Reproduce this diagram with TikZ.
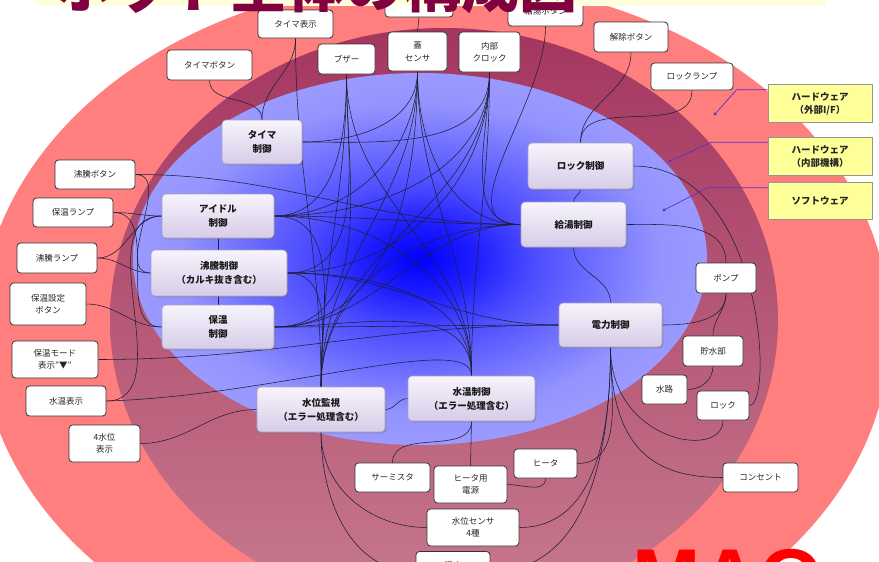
\documentclass[tikz,border=0pt]{standalone}
\usepackage{fontspec}
\setmainfont{Noto Sans CJK JP}
\newfontfamily\latinfont{Liberation Sans}
\usetikzlibrary{shadows}

\definecolor{outerred}{RGB}{255,126,126}
\definecolor{bandtop}{RGB}{164,54,96}
\definecolor{bandbot}{RGB}{200,122,142}
\definecolor{swtop}{RGB}{247,244,252}
\definecolor{swbot}{RGB}{214,204,232}
\definecolor{swedge}{RGB}{170,160,195}
\definecolor{wirecol}{RGB}{30,30,55}
\definecolor{legfill}{RGB}{255,255,153}
\definecolor{legedge}{RGB}{150,150,150}
\definecolor{legline}{RGB}{90,50,200}
\definecolor{titlecol}{RGB}{128,0,64}
\definecolor{titleband}{RGB}{255,255,221}

\pgfdeclareradialshading{blueglow}{\pgfpoint{0bp}{0bp}}{%
  rgb(0bp)=(0,0,1); rgb(5bp)=(0.12,0.12,1); rgb(10bp)=(0.3,0.3,1);
  rgb(21bp)=(0.58,0.58,1); rgb(35bp)=(0.66,0.66,1); rgb(50bp)=(0.68,0.68,1)}

\pgfdeclarelayer{bg}
\pgfdeclarelayer{wires}
\pgfdeclarelayer{top}
\pgfsetlayers{bg,wires,main,top}

\begin{document}
\begin{tikzpicture}[x=1pt,y=-1pt,
  sz/.style 2 args={minimum width=#1,minimum height=#2},
  hw/.style={draw=black!80,line width=0.8pt,fill=white,rounded corners=3.5pt,
    inner sep=0pt,align=center,text=black!85,font=\fontsize{8.5}{12.5}\selectfont},
  sw/.style={draw=swedge,line width=0.6pt,top color=swtop,bottom color=swbot,
    rounded corners=4pt,inner sep=0pt,align=center,text=black!90,
    drop shadow={shadow xshift=1.3pt,shadow yshift=-1.3pt,opacity=0.35,fill=black!60},
    font=\fontsize{9.5}{14}\selectfont\bfseries},
  leg/.style={draw=legedge,line width=0.6pt,fill=legfill,inner sep=0pt,align=center,
    text=black!85,font=\fontsize{9.5}{13}\selectfont\bfseries},
  wire/.style={draw=wirecol,line width=0.55pt},
  leader/.style={draw=legline,line width=0.7pt}]

\useasboundingbox (0,0) rectangle (879,562);

% three nested regions
\begin{pgfonlayer}{bg}
  \fill[outerred] (435,330) ellipse [x radius=455, y radius=350];
  \shade[top color=bandtop,bottom color=bandbot] (444,320) ellipse [x radius=334, y radius=292];
  \shade[shading=blueglow] (420,259) ellipse [x radius=287, y radius=186];
\end{pgfonlayer}

% external hardware
\node[hw,sz={75}{28}] (tdisp)  at (295.5,24)   {タイマ表示};
\node[hw,sz={68}{42}] (hid)    at (419,-4)     {};
\node[hw,sz={75}{30}] (kbtn)   at (545.5,11)   {給湯ボタン};
\node[hw,sz={74}{30}] (rbtn)   at (631,37)     {解除ボタン};
\node[hw,sz={82}{27}] (llamp)  at (692,76.5)   {ロックランプ};
\node[hw,sz={85}{30}] (tbtn)   at (209.5,65)   {タイマボタン};
\node[hw,sz={57}{30}] (buz)    at (346.5,59)   {ブザー};
\node[hw,sz={59}{39}] (lid)    at (417.5,51.5) {蓋\\センサ};
\node[hw,sz={61}{40}] (clk)    at (489.5,52)   {内部\\クロック};
\node[hw,sz={80}{29}] (bbtn)   at (95,174.5)   {沸騰ボタン};
\node[hw,sz={80}{29}] (klamp)  at (73,212.5)   {保温ランプ};
\node[hw,sz={80}{30}] (blamp)  at (57,258)     {沸騰ランプ};
\node[hw,sz={76}{42}] (kset)   at (48,304)     {保温設定\\ボタン};
\node[hw,sz={86}{37}] (kmode)  at (55,359.5)   {保温モード\\表示"▼"};
\node[hw,sz={80}{30}] (wtdisp) at (66,401)     {水温表示};
\node[hw,sz={71}{37}] (wldisp) at (104.5,443.5){4水位\\表示};
\node[hw,sz={60}{30}] (pump)   at (726,278)    {ポンプ};
\node[hw,sz={60}{30}] (tank)   at (713,351)    {貯水部};
\node[hw,sz={45}{29}] (wpath)  at (664.5,389.5){水路};
\node[hw,sz={52}{29}] (lockb)  at (723,405.5)  {ロック};
\node[hw,sz={75}{29}] (outlet) at (760.5,477.5){コンセント};
\node[hw,sz={75}{29}] (therm)  at (392.5,477.5){サーミスタ};
\node[hw,sz={73}{37}] (hpow)   at (470.5,484.5){ヒータ用\\電源};
\node[hw,sz={63}{29}] (heater) at (545.5,463.5){ヒータ};
\node[hw,sz={92}{37}] (wsens)  at (473,527.5)  {水位センサ\\4種};
\node[hw,sz={74}{40}] (full)   at (453,571.5)  {満水\\\phantom{満}};

% software blocks
\node[sw,sz={80}{44}]  (timer)  at (262,142)    {タイマ\\制御};
\node[sw,sz={105}{46}] (lockc)  at (580.5,166)  {ロック制御};
\node[sw,sz={112}{44}] (idle)   at (218,216)    {アイドル\\制御};
\node[sw,sz={105}{45}] (supply) at (573.5,224.5){給湯制御};
\node[sw,sz={136}{46}] (boil)   at (219,273)    {沸騰制御\\（カルキ抜き含む）};
\node[sw,sz={112}{44}] (keep)   at (218,327)    {保温\\制御};
\node[sw,sz={103}{44}] (power)  at (610.5,325)  {電力制御};
\node[sw,sz={128}{45}] (wlev)   at (321,409.5)  {水位監視\\（エラー処理含む）};
\node[sw,sz={127}{45}] (wtmp)   at (471.5,398.5){水温制御\\（エラー処理含む）};

% legend
\node[leg,sz={104}{38}] (lg1) at (820,103.5) {ハードウェア\\（外部I/F）};
\node[leg,sz={104}{38}] (lg2) at (820,156.5) {ハードウェア\\（内部機構）};
\node[leg,sz={104}{37}] (lg3) at (820,201)   {ソフトウェア};
\coordinate (d1) at (715,114);
\coordinate (d2) at (670,161);
\coordinate (d3) at (664,210);
\draw[leader] (lg1.north west) ++(0,5.5) -- ++(-31,0) -- (d1);
\draw[leader] (lg2.north west) ++(0,5) -- ++(-56,0) -- (d2);
\draw[leader] (lg3.north west) ++(0,5.5) -- ++(-60,0) -- (d3);
\fill[legline] (d1) circle (1.6);
\fill[legline] (d2) circle (1.6);
\fill[legline] (d3) circle (1.6);

% connections
\begin{pgfonlayer}{wires}
  % top row
  \draw[wire] (hid.south) -- (lid.north);
  \draw[wire] (tbtn.south) to[out=-90,in=90] (timer.north);
  \draw[wire] (tdisp.south) to[out=-90,in=90] (timer.north);
  \draw[wire] (tdisp.south) to[out=-90,in=90] (wlev.north);
  \foreach \t in {idle.east,boil.east,keep.east}
    \draw[wire] (buz.south) to[out=-90,in=0] (\t);
  \foreach \t in {wlev.north,wtmp.north}
    \draw[wire] (buz.south) to[out=-90,in=90] (\t);
  \foreach \t in {idle.east,keep.east}
    \draw[wire] (lid.south) to[out=-90,in=0] (\t);
  \foreach \t in {wlev.north,wtmp.north}
    \draw[wire] (lid.south) to[out=-90,in=90] (\t);
  \draw[wire] (lid.south) to[out=-90,in=180] (supply.west);
  \foreach \t in {timer.east,idle.east,boil.east}
    \draw[wire] (clk.south) to[out=-90,in=0] (\t);
  \foreach \t in {wlev.north,wtmp.north}
    \draw[wire] (clk.south) to[out=-90,in=90] (\t);
  \draw[wire] (clk.south) to[out=-90,in=180] (supply.west);
  \draw[wire] (timer.east) to[out=0,in=-90] (lid.south);
  \draw[wire] (kbtn.south) to[out=-90,in=180] (supply.west);
  \draw[wire] (rbtn.south) to[out=-90,in=90] (lockc.north);
  \draw[wire] (llamp.south) to[out=-90,in=90] (lockc.north);
  % right side
  \draw[wire] (lockc.south) to[out=-90,in=90] (supply.north);
  \draw[wire] (lockc.east) .. controls +(130,0) and +(25,0) .. (lockb.east);
  \draw[wire] (supply.east) to[out=0,in=90] (pump.north);
  \draw[wire] (supply.south) to[out=-90,in=90] (power.north);
  \draw[wire] (power.east) to[out=0,in=-90] (pump.south);
  \draw[wire] (pump.south) to[out=-90,in=90] (tank.north);
  \draw[wire] (tank.south) to[out=-90,in=0] (wpath.east);
  \draw[wire] (power.south) .. controls +(0,95) and +(0,40) .. (lockb.south);
  \draw[wire] (power.south) .. controls +(0,110) and +(-60,0) .. (outlet.west);
  \draw[wire] (heater.east) to[out=0,in=-90] (power.south);
  \draw[wire] (wsens.east) to[out=0,in=-90] (power.south);
  \draw[wire] (full.east) to[out=0,in=-90] (power.south);
  % bottom
  \draw[wire] (wtmp.south) to[out=-90,in=90] (therm.north);
  \draw[wire] (wtmp.south) -- (hpow.north);
  \draw[wire] (hpow.east) to[out=0,in=-90] (heater.south);
  \draw[wire] (wlev.south) to[out=-90,in=180] (wsens.west);
  \draw[wire] (wlev.south) to[out=-90,in=180] (full.west);
  \draw[wire] (wlev.east) to[out=0,in=180] (wtmp.west);
  % left side
  \draw[wire] (wldisp.east) to[out=0,in=180] (wlev.west);
  \draw[wire] (wtdisp.east) .. controls +(170,-5) and +(0,-45) .. (wtmp.north);
  \draw[wire] (wtdisp.east) to[out=0,in=180] (idle.west);
  \draw[wire] (kmode.east) to[out=0,in=180] (power.west);
  \draw[wire] (kset.east) to[out=0,in=180] (keep.west);
  \draw[wire] (blamp.east) to[out=0,in=180] (idle.west);
  \draw[wire] (blamp.east) to[out=0,in=180] (boil.west);
  \draw[wire] (klamp.east) to[out=0,in=180] (keep.west);
  \draw[wire] (klamp.east) to[out=0,in=180] (idle.west);
  \draw[wire] (bbtn.east) to[out=0,in=180] (boil.west);
  \draw[wire] (bbtn.east) to[out=0,in=180] (supply.west);
  % between control blocks
  \draw[wire] (idle.south) -- (keep.north);
  \draw[wire] (idle.east) to[out=0,in=180] (supply.west);
  \draw[wire] (idle.east) to[out=0,in=90] (wlev.north);
  \draw[wire] (idle.east) to[out=0,in=90] (wtmp.north);
  \draw[wire] (boil.east) to[out=0,in=90] (wtmp.north);
  \draw[wire] (boil.east) to[out=0,in=90] (wlev.north);
  \draw[wire] (boil.east) to[out=0,in=180] (power.west);
  \draw[wire] (keep.east) to[out=0,in=180] (power.west);
  \draw[wire] (keep.east) to[out=0,in=180] (supply.west);
  \draw[wire] (keep.east) to[out=0,in=90] (wtmp.north);
  \draw[wire] (supply.west) to[out=180,in=90] (wlev.north);
\end{pgfonlayer}

% heading strip and mark
\begin{pgfonlayer}{top}
  \fill[titleband] (35,-10) rectangle (826,6);
  \node[anchor=base west,inner sep=0pt,text=titlecol,
    font=\fontsize{58}{58}\selectfont\bfseries] (title) at (55,7) {ポット全体の構成図};
  \node[anchor=base west,inner sep=0pt,text=red,
    font=\latinfont\fontsize{82}{82}\selectfont\bfseries] (mark) at (632,606) {MAO};
\end{pgfonlayer}
\end{tikzpicture}
\end{document}
